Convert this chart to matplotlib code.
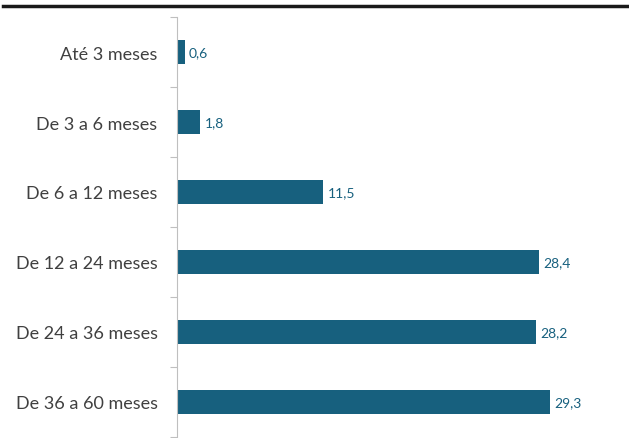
import numpy as np
import matplotlib.pyplot as plt
from matplotlib.lines import Line2D

# dados
categorias = ["Até 3 meses", "De 3 a 6 meses", "De 6 a 12 meses",
              "De 12 a 24 meses", "De 24 a 36 meses", "De 36 a 60 meses"]
valores = [0.6, 1.8, 11.5, 28.4, 28.2, 29.3]

cor_barra = "#17607e"
cor_texto = "#404040"

plt.rcParams["font.family"] = ["Lato", "DejaVu Sans"]

fig = plt.figure(figsize=(6.29, 4.39), dpi=100)
ax = fig.add_axes([177 / 629, 1 / 439, 1 - 177 / 629, 420 / 439])

y = np.arange(len(categorias))
ax.barh(y, valores, height=0.35, color=cor_barra)

for yi, v in zip(y, valores):
    ax.text(v + 0.35, yi, f"{v:.1f}".replace(".", ","), va="center", ha="left",
            fontsize=10, color=cor_barra)

ax.set_ylim(len(categorias) - 0.5, -0.5)
ax.set_xlim(0, 35.5)

ax.set_yticks(y)
ax.set_yticklabels(categorias, fontsize=13, color=cor_texto)
ax.tick_params(axis="y", length=0, pad=14)
ax.set_yticks(np.arange(-0.5, len(categorias), 1), minor=True)
ax.tick_params(axis="y", which="minor", length=5, color="#bfbfbf", width=0.8)
ax.set_xticks([])

for s in ["top", "right", "bottom"]:
    ax.spines[s].set_visible(False)
ax.spines["left"].set_color("#bfbfbf")
ax.spines["left"].set_linewidth(0.8)

# linha preta no topo
fig.add_artist(Line2D([3 / 629, 1], [1 - 6.5 / 439, 1 - 6.5 / 439],
                      transform=fig.transFigure, color="#1a1a1a", linewidth=2.5))

fig.savefig("out.png", dpi=100)
